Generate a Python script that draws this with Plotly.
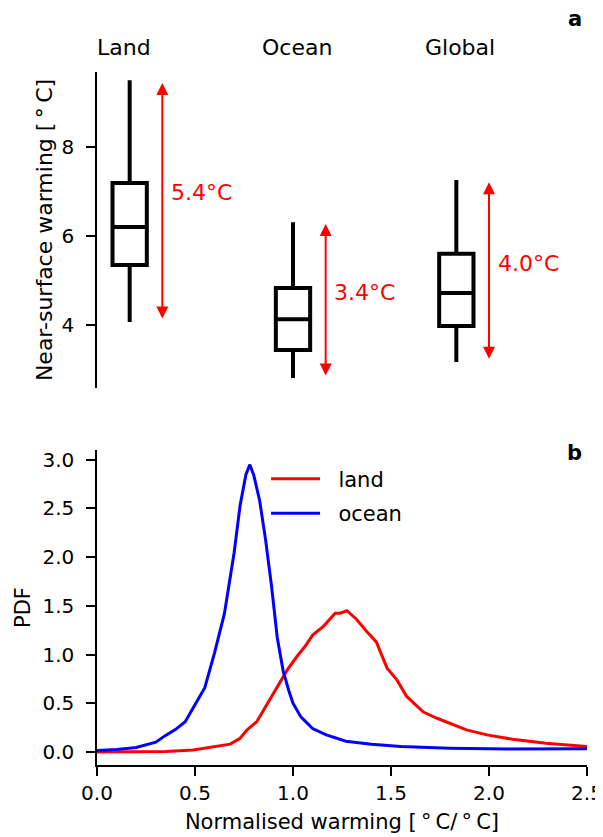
import plotly.graph_objects as go

# ---- Panel a data ----
categories = ["Land", "Ocean", "Global"]
box_pos = [1, 2, 3]
upper = [9.50, 6.31, 7.26]
q3 = [7.19, 4.83, 5.60]
median = [6.20, 4.13, 4.72]
q1 = [5.35, 3.44, 3.98]
lower = [4.07, 2.81, 3.17]
range_top = [9.44, 6.27, 7.21]
range_bottom = [4.11, 2.83, 3.21]
range_labels = ["5.4°C", "3.4°C", "4.0°C"]
range_label_y = [6.97, 4.74, 5.39]

# ---- Panel b data ----
ocean_x = [0.0, 0.1, 0.2, 0.25, 0.3, 0.35, 0.4, 0.45, 0.5, 0.55, 0.6, 0.65, 0.7, 0.73,
           0.76, 0.78, 0.8, 0.83, 0.86, 0.89, 0.92, 0.95, 0.98, 1.0, 1.04, 1.1, 1.17,
           1.27, 1.4, 1.55, 1.8, 2.1, 2.5]
ocean_y = [0.015, 0.025, 0.045, 0.07, 0.10, 0.17, 0.23, 0.31, 0.48, 0.66, 1.02, 1.42,
           2.05, 2.53, 2.85, 2.95, 2.84, 2.58, 2.18, 1.71, 1.17, 0.83, 0.62, 0.50, 0.36,
           0.24, 0.175, 0.11, 0.08, 0.055, 0.038, 0.03, 0.034]
land_x = [0.0, 0.2, 0.35, 0.49, 0.59, 0.68, 0.73, 0.765, 0.815, 0.865, 0.92, 0.97, 1.02,
          1.06, 1.10, 1.155, 1.215, 1.24, 1.275, 1.325, 1.375, 1.425, 1.48, 1.53, 1.58,
          1.665, 1.735, 1.82, 1.885, 1.99, 2.12, 2.29, 2.5]
land_y = [0.0, 0.002, 0.005, 0.02, 0.048, 0.08, 0.14, 0.226, 0.31, 0.48, 0.66, 0.84, 0.98,
          1.08, 1.20, 1.29, 1.425, 1.425, 1.45, 1.36, 1.24, 1.13, 0.86, 0.74, 0.57, 0.41,
          0.346, 0.277, 0.226, 0.175, 0.13, 0.089, 0.055]

FONT = "DejaVu Sans"
FS = 20
TS = "\u2009"
NB = "\u00a0"

fig = go.Figure()

fig.add_trace(go.Box(
    x=box_pos, q1=q1, median=median, q3=q3, lowerfence=lower, upperfence=upper,
    width=0.21, whiskerwidth=0, boxpoints=False,
    line=dict(color="black", width=4), fillcolor="white",
    xaxis="x", yaxis="y", showlegend=False, hoverinfo="skip",
))

fig.add_trace(go.Scatter(x=land_x, y=land_y, mode="lines", name=NB * 2 + "land",
                         line=dict(color="red", width=3), xaxis="x2", yaxis="y2",
                         legendgroup="l"))
fig.add_trace(go.Scatter(x=ocean_x, y=ocean_y, mode="lines", name=NB * 2 + "ocean",
                         line=dict(color="blue", width=3), xaxis="x2", yaxis="y2",
                         legendgroup="o"))

annotations = []
for i, p in enumerate(box_pos):
    annotations.append(dict(
        x=p + 0.2, y=range_top[i], ax=p + 0.2, ay=range_bottom[i],
        xref="x", yref="y", axref="x", ayref="y", text="", showarrow=True,
        arrowhead=2, startarrowhead=2, arrowside="end+start",
        arrowwidth=2, arrowsize=1.2, startarrowsize=1.2, arrowcolor="red",
    ))
    annotations.append(dict(
        x=p + 0.24, y=range_label_y[i], xref="x", yref="y", text=range_labels[i],
        showarrow=False, xanchor="left", yanchor="middle",
        font=dict(color="red", size=22, family=FONT),
    ))

cat_x = [0.965, 2.025, 3.02]
for c, cx in zip(categories, cat_x):
    annotations.append(dict(x=cx, y=1.035, xref="x", yref="paper", text=c,
                            showarrow=False, xanchor="center", yanchor="middle",
                            font=dict(size=22, family=FONT, color="black")))

annotations.append(dict(x=0.9755, y=1.076, xref="paper", yref="paper", text="<b>a</b>",
                        showarrow=False, xanchor="center", yanchor="middle",
                        font=dict(size=21, family=FONT, color="black")))
annotations.append(dict(x=0.9755, y=0.450, xref="paper", yref="paper", text="<b>b</b>",
                        showarrow=False, xanchor="center", yanchor="middle",
                        font=dict(size=21, family=FONT, color="black")))

axis_common = dict(showline=True, linecolor="black", linewidth=1.5, ticks="outside",
                   ticklen=9, tickwidth=1.5, tickcolor="black", showgrid=False,
                   zeroline=False, automargin=False,
                   tickfont=dict(size=FS, family=FONT, color="black"))

# the page body adds an 8 px offset, so the figure is 8 px smaller with 8 px less margin
fig.update_layout(
    width=595, height=829,
    margin=dict(l=89, r=16, t=64, b=72),
    paper_bgcolor="white", plot_bgcolor="white",
    font=dict(family=FONT, size=FS, color="black"),
    xaxis=dict(domain=[0, 1], range=[0.8, 3.8], visible=False, anchor="y",
               automargin=False),
    yaxis=dict(domain=[0.544, 1.0], range=[2.584, 9.685], tickvals=[4, 6, 8],
               anchor="x", ticklabelstandoff=8,
               title=dict(text=f"Near-surface warming [{TS}°{TS}C]", standoff=3,
                          font=dict(size=22, family=FONT)),
               **axis_common),
    xaxis2=dict(domain=[0, 1], range=[0, 2.5], tickvals=[0, 0.5, 1.0, 1.5, 2.0, 2.5],
                tickformat=".1f", anchor="y2", ticklabelstandoff=0,
                title=dict(text=f"Normalised warming [{TS}°{TS}C/{TS}°{TS}C]", standoff=11,
                           font=dict(size=21, family=FONT)),
                **axis_common),
    yaxis2=dict(domain=[0, 0.4545], range=[-0.134, 3.1],
                tickvals=[0, 0.5, 1.0, 1.5, 2.0, 2.5, 3.0], tickformat=".1f", anchor="x2",
                ticklabelstandoff=8,
                title=dict(text="PDF", standoff=6, font=dict(size=21, family=FONT)),
                **axis_common),
    legend=dict(x=0.345, y=0.442, xanchor="left", yanchor="top",
                bgcolor="rgba(0,0,0,0)", font=dict(size=21, family=FONT),
                itemwidth=49, tracegroupgap=4),
    annotations=annotations,
)

fig.write_html("out.html")
